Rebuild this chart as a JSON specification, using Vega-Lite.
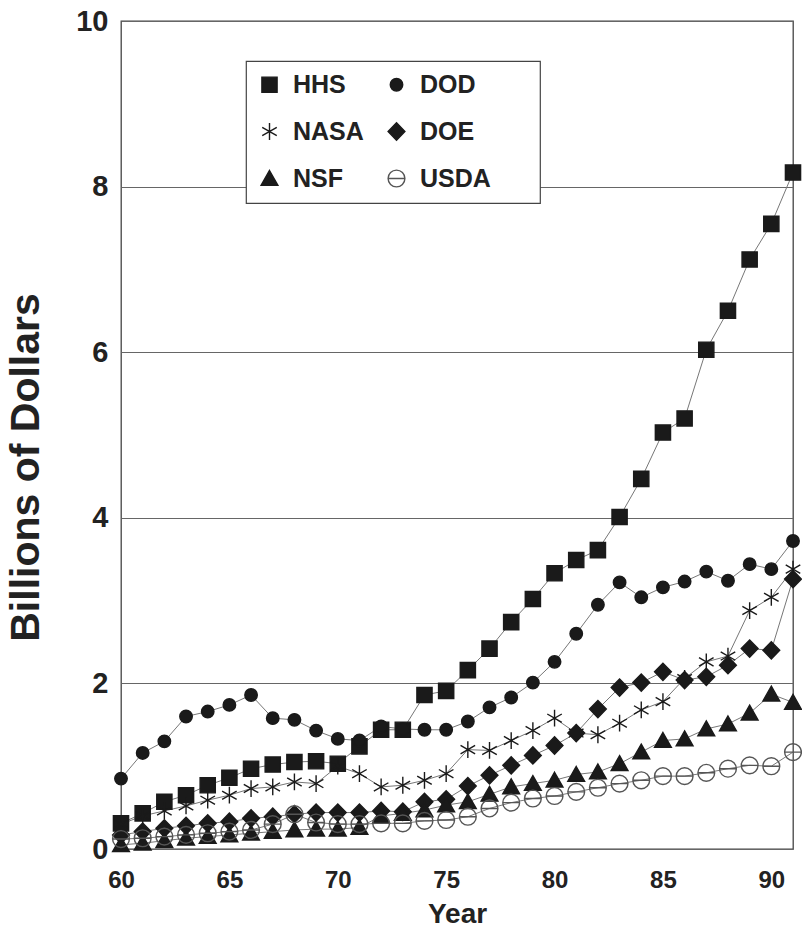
{
  "$schema": "https://vega.github.io/schema/vega-lite/v6.json",
  "width": 672,
  "height": 828,
  "autosize": {"type": "none"},
  "padding": {"left": 121, "top": 21, "right": 9, "bottom": 93},
  "background": "white",
  "config": {
    "view": {"stroke": "#444", "strokeWidth": 1.3},
    "font": "Liberation Sans",
    "legend": {
      "orient": "none",
      "legendX": 125,
      "legendY": 40,
      "columns": 2,
      "direction": "horizontal",
      "strokeColor": "#444",
      "strokeWidth": 1.2,
      "fillColor": "white",
      "padding": 11,
      "rowPadding": 21,
      "columnPadding": 20,
      "labelFont": "Liberation Sans",
      "labelFontWeight": "bold",
      "labelFontSize": 25,
      "labelColor": "#222",
      "labelOffset": 11,
      "labelLimit": 300,
      "symbolSize": 256,
      "symbolStrokeWidth": 1.4,
      "gridAlign": "each"
    }
  },
  "datasets": {
    "rd": [
      {"agency":"HHS","year":60,"value":0.31},{"agency":"HHS","year":61,"value":0.43},{"agency":"HHS","year":62,"value":0.57},{"agency":"HHS","year":63,"value":0.65},{"agency":"HHS","year":64,"value":0.77},{"agency":"HHS","year":65,"value":0.86},{"agency":"HHS","year":66,"value":0.97},{"agency":"HHS","year":67,"value":1.02},{"agency":"HHS","year":68,"value":1.05},{"agency":"HHS","year":69,"value":1.06},{"agency":"HHS","year":70,"value":1.03},{"agency":"HHS","year":71,"value":1.24},{"agency":"HHS","year":72,"value":1.44},{"agency":"HHS","year":73,"value":1.44},{"agency":"HHS","year":74,"value":1.86},{"agency":"HHS","year":75,"value":1.91},{"agency":"HHS","year":76,"value":2.16},{"agency":"HHS","year":77,"value":2.42},{"agency":"HHS","year":78,"value":2.74},{"agency":"HHS","year":79,"value":3.02},{"agency":"HHS","year":80,"value":3.33},{"agency":"HHS","year":81,"value":3.49},{"agency":"HHS","year":82,"value":3.61},{"agency":"HHS","year":83,"value":4.01},{"agency":"HHS","year":84,"value":4.47},{"agency":"HHS","year":85,"value":5.03},{"agency":"HHS","year":86,"value":5.2},{"agency":"HHS","year":87,"value":6.03},{"agency":"HHS","year":88,"value":6.5},{"agency":"HHS","year":89,"value":7.12},{"agency":"HHS","year":90,"value":7.55},{"agency":"HHS","year":91,"value":8.17},
      {"agency":"DOD","year":60,"value":0.85},{"agency":"DOD","year":61,"value":1.16},{"agency":"DOD","year":62,"value":1.3},{"agency":"DOD","year":63,"value":1.6},{"agency":"DOD","year":64,"value":1.66},{"agency":"DOD","year":65,"value":1.74},{"agency":"DOD","year":66,"value":1.86},{"agency":"DOD","year":67,"value":1.58},{"agency":"DOD","year":68,"value":1.56},{"agency":"DOD","year":69,"value":1.43},{"agency":"DOD","year":70,"value":1.33},{"agency":"DOD","year":71,"value":1.31},{"agency":"DOD","year":72,"value":1.48},{"agency":"DOD","year":73,"value":1.45},{"agency":"DOD","year":74,"value":1.44},{"agency":"DOD","year":75,"value":1.44},{"agency":"DOD","year":76,"value":1.54},{"agency":"DOD","year":77,"value":1.71},{"agency":"DOD","year":78,"value":1.83},{"agency":"DOD","year":79,"value":2.01},{"agency":"DOD","year":80,"value":2.26},{"agency":"DOD","year":81,"value":2.6},{"agency":"DOD","year":82,"value":2.95},{"agency":"DOD","year":83,"value":3.22},{"agency":"DOD","year":84,"value":3.04},{"agency":"DOD","year":85,"value":3.16},{"agency":"DOD","year":86,"value":3.23},{"agency":"DOD","year":87,"value":3.35},{"agency":"DOD","year":88,"value":3.24},{"agency":"DOD","year":89,"value":3.44},{"agency":"DOD","year":90,"value":3.38},{"agency":"DOD","year":91,"value":3.72},
      {"agency":"NASA","year":60,"value":0.3},{"agency":"NASA","year":61,"value":0.4},{"agency":"NASA","year":62,"value":0.46},{"agency":"NASA","year":63,"value":0.52},{"agency":"NASA","year":64,"value":0.59},{"agency":"NASA","year":65,"value":0.65},{"agency":"NASA","year":66,"value":0.73},{"agency":"NASA","year":67,"value":0.75},{"agency":"NASA","year":68,"value":0.81},{"agency":"NASA","year":69,"value":0.79},{"agency":"NASA","year":70,"value":1.0},{"agency":"NASA","year":71,"value":0.91},{"agency":"NASA","year":72,"value":0.75},{"agency":"NASA","year":73,"value":0.77},{"agency":"NASA","year":74,"value":0.83},{"agency":"NASA","year":75,"value":0.91},{"agency":"NASA","year":76,"value":1.2},{"agency":"NASA","year":77,"value":1.19},{"agency":"NASA","year":78,"value":1.31},{"agency":"NASA","year":79,"value":1.43},{"agency":"NASA","year":80,"value":1.58},{"agency":"NASA","year":81,"value":1.4},{"agency":"NASA","year":82,"value":1.38},{"agency":"NASA","year":83,"value":1.52},{"agency":"NASA","year":84,"value":1.68},{"agency":"NASA","year":85,"value":1.78},{"agency":"NASA","year":86,"value":2.06},{"agency":"NASA","year":87,"value":2.26},{"agency":"NASA","year":88,"value":2.33},{"agency":"NASA","year":89,"value":2.88},{"agency":"NASA","year":90,"value":3.04},{"agency":"NASA","year":91,"value":3.38},
      {"agency":"DOE","year":60,"value":0.17},{"agency":"DOE","year":61,"value":0.21},{"agency":"DOE","year":62,"value":0.25},{"agency":"DOE","year":63,"value":0.28},{"agency":"DOE","year":64,"value":0.31},{"agency":"DOE","year":65,"value":0.33},{"agency":"DOE","year":66,"value":0.37},{"agency":"DOE","year":67,"value":0.39},{"agency":"DOE","year":68,"value":0.42},{"agency":"DOE","year":69,"value":0.44},{"agency":"DOE","year":70,"value":0.44},{"agency":"DOE","year":71,"value":0.44},{"agency":"DOE","year":72,"value":0.46},{"agency":"DOE","year":73,"value":0.45},{"agency":"DOE","year":74,"value":0.57},{"agency":"DOE","year":75,"value":0.6},{"agency":"DOE","year":76,"value":0.76},{"agency":"DOE","year":77,"value":0.89},{"agency":"DOE","year":78,"value":1.01},{"agency":"DOE","year":79,"value":1.13},{"agency":"DOE","year":80,"value":1.25},{"agency":"DOE","year":81,"value":1.4},{"agency":"DOE","year":82,"value":1.69},{"agency":"DOE","year":83,"value":1.95},{"agency":"DOE","year":84,"value":2.01},{"agency":"DOE","year":85,"value":2.14},{"agency":"DOE","year":86,"value":2.04},{"agency":"DOE","year":87,"value":2.08},{"agency":"DOE","year":88,"value":2.22},{"agency":"DOE","year":89,"value":2.42},{"agency":"DOE","year":90,"value":2.4},{"agency":"DOE","year":91,"value":3.26},
      {"agency":"NSF","year":60,"value":0.05},{"agency":"NSF","year":61,"value":0.07},{"agency":"NSF","year":62,"value":0.1},{"agency":"NSF","year":63,"value":0.13},{"agency":"NSF","year":64,"value":0.15},{"agency":"NSF","year":65,"value":0.17},{"agency":"NSF","year":66,"value":0.19},{"agency":"NSF","year":67,"value":0.21},{"agency":"NSF","year":68,"value":0.23},{"agency":"NSF","year":69,"value":0.24},{"agency":"NSF","year":70,"value":0.24},{"agency":"NSF","year":71,"value":0.26},{"agency":"NSF","year":72,"value":0.4},{"agency":"NSF","year":73,"value":0.43},{"agency":"NSF","year":74,"value":0.47},{"agency":"NSF","year":75,"value":0.53},{"agency":"NSF","year":76,"value":0.57},{"agency":"NSF","year":77,"value":0.66},{"agency":"NSF","year":78,"value":0.75},{"agency":"NSF","year":79,"value":0.79},{"agency":"NSF","year":80,"value":0.83},{"agency":"NSF","year":81,"value":0.9},{"agency":"NSF","year":82,"value":0.93},{"agency":"NSF","year":83,"value":1.03},{"agency":"NSF","year":84,"value":1.17},{"agency":"NSF","year":85,"value":1.31},{"agency":"NSF","year":86,"value":1.33},{"agency":"NSF","year":87,"value":1.45},{"agency":"NSF","year":88,"value":1.51},{"agency":"NSF","year":89,"value":1.64},{"agency":"NSF","year":90,"value":1.87},{"agency":"NSF","year":91,"value":1.77},
      {"agency":"USDA","year":60,"value":0.12},{"agency":"USDA","year":61,"value":0.13},{"agency":"USDA","year":62,"value":0.15},{"agency":"USDA","year":63,"value":0.17},{"agency":"USDA","year":64,"value":0.19},{"agency":"USDA","year":65,"value":0.21},{"agency":"USDA","year":66,"value":0.23},{"agency":"USDA","year":67,"value":0.3},{"agency":"USDA","year":68,"value":0.42},{"agency":"USDA","year":69,"value":0.32},{"agency":"USDA","year":70,"value":0.3},{"agency":"USDA","year":71,"value":0.3},{"agency":"USDA","year":72,"value":0.31},{"agency":"USDA","year":73,"value":0.31},{"agency":"USDA","year":74,"value":0.34},{"agency":"USDA","year":75,"value":0.35},{"agency":"USDA","year":76,"value":0.39},{"agency":"USDA","year":77,"value":0.49},{"agency":"USDA","year":78,"value":0.56},{"agency":"USDA","year":79,"value":0.61},{"agency":"USDA","year":80,"value":0.64},{"agency":"USDA","year":81,"value":0.69},{"agency":"USDA","year":82,"value":0.74},{"agency":"USDA","year":83,"value":0.79},{"agency":"USDA","year":84,"value":0.83},{"agency":"USDA","year":85,"value":0.88},{"agency":"USDA","year":86,"value":0.88},{"agency":"USDA","year":87,"value":0.92},{"agency":"USDA","year":88,"value":0.97},{"agency":"USDA","year":89,"value":1.01},{"agency":"USDA","year":90,"value":1.0},{"agency":"USDA","year":91,"value":1.17}
    ]
  },
  "data": {"name": "rd"},
  "encoding": {
    "x": {
      "field": "year", "type": "quantitative",
      "scale": {"domain": [60, 91], "nice": false, "zero": false},
      "axis": {
        "values": [60, 65, 70, 75, 80, 85, 90],
        "grid": false, "ticks": false, "domain": false,
        "labelFlush": false,
        "labelFont": "Liberation Sans", "labelFontWeight": "bold", "labelFontSize": 24, "labelColor": "#222",
        "labelPadding": 19,
        "title": "Year", "titleFont": "Liberation Sans", "titleFontWeight": "bold", "titleFontSize": 28, "titleColor": "#222",
        "titleBaseline": "top", "titleY": 51
      }
    },
    "y": {
      "field": "value", "type": "quantitative",
      "scale": {"domain": [0, 10], "nice": false},
      "axis": {
        "values": [0, 2, 4, 6, 8, 10],
        "grid": true, "gridColor": "#666", "gridWidth": 1.1,
        "ticks": false, "domain": false,
        "labelFont": "Liberation Sans", "labelFontWeight": "bold", "labelFontSize": 29, "labelColor": "#222",
        "labelPadding": 13,
        "title": "Billions of Dollars", "titleFont": "Liberation Sans", "titleFontWeight": "bold", "titleFontSize": 41, "titleColor": "#222",
        "titleAngle": -90, "titleX": -95, "titleY": 446, "titleAlign": "center", "titleBaseline": "middle"
      }
    }
  },
  "layer": [
    {
      "mark": {"type": "line", "color": "#777", "strokeWidth": 1},
      "encoding": {"detail": {"field": "agency"}}
    },
    {
      "mark": {"type": "point", "opacity": 1, "strokeWidth": 1.4, "size": 256},
      "encoding": {
        "shape": {
          "field": "agency", "type": "nominal",
          "scale": {
            "domain": ["HHS", "DOD", "NASA", "DOE", "NSF", "USDA"],
            "range": [
              "M-0.95,-0.95H0.95V0.95H-0.95Z",
              "M-0.78,0A0.78,0.78,0,1,1,0.78,0A0.78,0.78,0,1,1,-0.78,0Z",
              "M0,-1.05L0,1.05M-0.91,-0.52L0.91,0.52M-0.91,0.52L0.91,-0.52",
              "M0,-1.08L1.05,0L0,1.08L-1.05,0Z",
              "M0,-1L1.05,0.85L-1.05,0.85Z",
              "M-1.05,0A1.05,1.05,0,1,1,1.05,0A1.05,1.05,0,1,1,-1.05,0ZM-1.05,0L1.05,0"
            ]
          },
          "legend": {"title": null, "labelExpr": "datum.label === 'USDA' ? 'USDA\u2003\u2002\u200b' : datum.label"}
        },
        "fill": {
          "field": "agency", "type": "nominal",
          "scale": {
            "domain": ["HHS", "DOD", "NASA", "DOE", "NSF", "USDA"],
            "range": ["#1a1a1a", "#1a1a1a", "transparent", "#1a1a1a", "#1a1a1a", "transparent"]
          },
          "legend": {"title": null, "labelExpr": "datum.label === 'USDA' ? 'USDA\u2003\u2002\u200b' : datum.label"}
        },
        "stroke": {
          "field": "agency", "type": "nominal",
          "scale": {
            "domain": ["HHS", "DOD", "NASA", "DOE", "NSF", "USDA"],
            "range": ["#1a1a1a", "#1a1a1a", "#1a1a1a", "#1a1a1a", "#1a1a1a", "#555"]
          },
          "legend": {"title": null, "labelExpr": "datum.label === 'USDA' ? 'USDA\u2003\u2002\u200b' : datum.label"}
        }
      }
    }
  ]
}
